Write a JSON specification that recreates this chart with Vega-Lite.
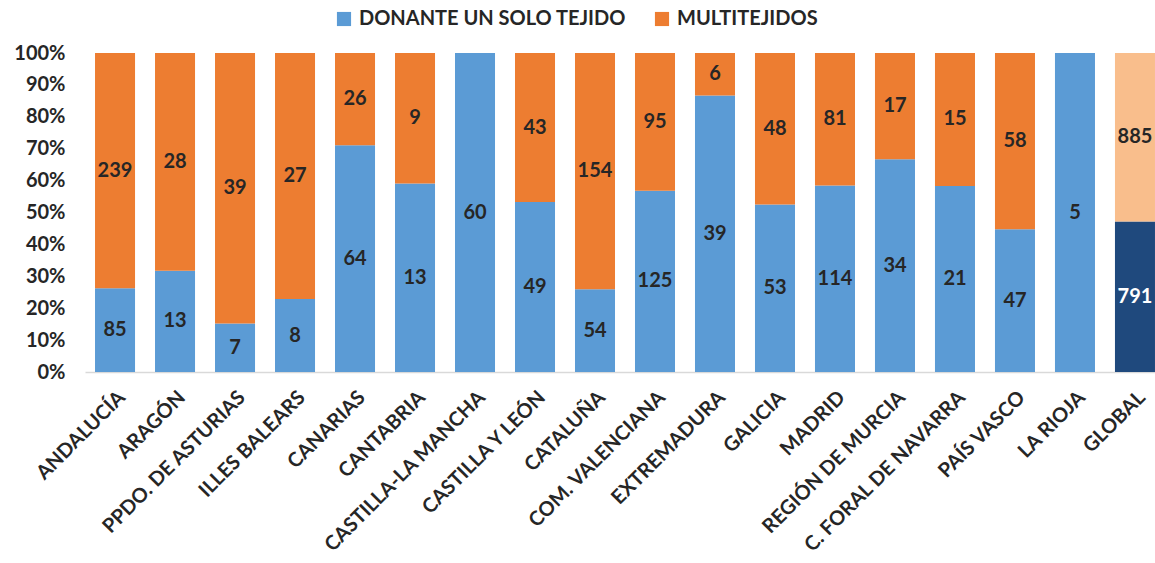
{
  "$schema": "https://vega.github.io/schema/vega-lite/v6.json",
  "width": 1070,
  "height": 319,
  "autosize": {"type": "none"},
  "padding": {"left": 85, "top": 53, "right": 0, "bottom": 191},
  "background": "white",
  "config": {
    "view": {"stroke": null},
    "font": "Lato",
    "text": {"font": "Lato"},
    "axisY": {
      "labelFont": "Lato",
      "labelFontSize": 20,
      "labelFontWeight": "bold",
      "labelColor": "#262626",
      "labelPadding": 20,
      "labelOverlap": false,
      "labelBound": false,
      "domain": false,
      "ticks": false,
      "grid": false
    }
  },
  "data": {
    "values": [
      {"region": "ANDALUCÍA", "tipo": "DONANTE UN SOLO TEJIDO", "n": 85},
      {"region": "ANDALUCÍA", "tipo": "MULTITEJIDOS", "n": 239},
      {"region": "ARAGÓN", "tipo": "DONANTE UN SOLO TEJIDO", "n": 13},
      {"region": "ARAGÓN", "tipo": "MULTITEJIDOS", "n": 28},
      {"region": "PPDO. DE ASTURIAS", "tipo": "DONANTE UN SOLO TEJIDO", "n": 7},
      {"region": "PPDO. DE ASTURIAS", "tipo": "MULTITEJIDOS", "n": 39},
      {"region": "ILLES BALEARS", "tipo": "DONANTE UN SOLO TEJIDO", "n": 8},
      {"region": "ILLES BALEARS", "tipo": "MULTITEJIDOS", "n": 27},
      {"region": "CANARIAS", "tipo": "DONANTE UN SOLO TEJIDO", "n": 64},
      {"region": "CANARIAS", "tipo": "MULTITEJIDOS", "n": 26},
      {"region": "CANTABRIA", "tipo": "DONANTE UN SOLO TEJIDO", "n": 13},
      {"region": "CANTABRIA", "tipo": "MULTITEJIDOS", "n": 9},
      {"region": "CASTILLA-LA MANCHA", "tipo": "DONANTE UN SOLO TEJIDO", "n": 60},
      {"region": "CASTILLA-LA MANCHA", "tipo": "MULTITEJIDOS", "n": 0},
      {"region": "CASTILLA Y LEÓN", "tipo": "DONANTE UN SOLO TEJIDO", "n": 49},
      {"region": "CASTILLA Y LEÓN", "tipo": "MULTITEJIDOS", "n": 43},
      {"region": "CATALUÑA", "tipo": "DONANTE UN SOLO TEJIDO", "n": 54},
      {"region": "CATALUÑA", "tipo": "MULTITEJIDOS", "n": 154},
      {"region": "COM. VALENCIANA", "tipo": "DONANTE UN SOLO TEJIDO", "n": 125},
      {"region": "COM. VALENCIANA", "tipo": "MULTITEJIDOS", "n": 95},
      {"region": "EXTREMADURA", "tipo": "DONANTE UN SOLO TEJIDO", "n": 39},
      {"region": "EXTREMADURA", "tipo": "MULTITEJIDOS", "n": 6},
      {"region": "GALICIA", "tipo": "DONANTE UN SOLO TEJIDO", "n": 53},
      {"region": "GALICIA", "tipo": "MULTITEJIDOS", "n": 48},
      {"region": "MADRID", "tipo": "DONANTE UN SOLO TEJIDO", "n": 114},
      {"region": "MADRID", "tipo": "MULTITEJIDOS", "n": 81},
      {"region": "REGIÓN DE MURCIA", "tipo": "DONANTE UN SOLO TEJIDO", "n": 34},
      {"region": "REGIÓN DE MURCIA", "tipo": "MULTITEJIDOS", "n": 17},
      {"region": "C. FORAL DE NAVARRA", "tipo": "DONANTE UN SOLO TEJIDO", "n": 21},
      {"region": "C. FORAL DE NAVARRA", "tipo": "MULTITEJIDOS", "n": 15},
      {"region": "PAÍS VASCO", "tipo": "DONANTE UN SOLO TEJIDO", "n": 47},
      {"region": "PAÍS VASCO", "tipo": "MULTITEJIDOS", "n": 58},
      {"region": "LA RIOJA", "tipo": "DONANTE UN SOLO TEJIDO", "n": 5},
      {"region": "LA RIOJA", "tipo": "MULTITEJIDOS", "n": 0},
      {"region": "GLOBAL", "tipo": "DONANTE UN SOLO TEJIDO", "n": 791},
      {"region": "GLOBAL", "tipo": "MULTITEJIDOS", "n": 885}
    ]
  },
  "transform": [
    {"calculate": "datum.region === 'GLOBAL' ? 'GLOBAL ' + datum.tipo : datum.tipo", "as": "serie"},
    {"stack": "n", "groupby": ["region"], "sort": [{"field": "tipo", "order": "ascending"}], "offset": "normalize", "as": ["y0", "y1"]},
    {"calculate": "(datum.y0 + datum.y1) / 2", "as": "ymid"}
  ],
  "encoding": {
    "x": {
      "field": "region",
      "type": "nominal",
      "sort": null,
      "title": null,
      "scale": {"range": [0, 1080], "paddingInner": 0.333, "paddingOuter": 0.167},
      "axis": {
        "labelAngle": -45,
        "labelAlign": "right",
        "labelBaseline": "top",
        "labelFont": "Lato",
        "labelFontSize": 20,
        "labelFontWeight": "bold",
        "labelColor": "#262626",
        "labelPadding": 15,
        "labelLimit": 400,
        "labelOverlap": false,
        "ticks": false,
        "domainColor": "#d9d9d9",
        "domainWidth": 1.5,
        "grid": false
      }
    }
  },
  "layer": [
    {
      "mark": {"type": "bar"},
      "encoding": {
        "y": {
          "field": "y0",
          "type": "quantitative",
          "title": null,
          "scale": {"domain": [0, 1]},
          "axis": {"values": [0, 0.1, 0.2, 0.3, 0.4, 0.5, 0.6, 0.7, 0.8, 0.9, 1], "format": ".0%"}
        },
        "y2": {"field": "y1"},
        "color": {
          "field": "serie",
          "type": "nominal",
          "scale": {
            "domain": ["DONANTE UN SOLO TEJIDO", "MULTITEJIDOS", "GLOBAL DONANTE UN SOLO TEJIDO", "GLOBAL MULTITEJIDOS"],
            "range": ["#5B9BD5", "#ED7D31", "#1F497D", "#F9BE8C"]
          },
          "legend": {
            "values": ["DONANTE UN SOLO TEJIDO", "MULTITEJIDOS"],
            "orient": "none",
            "direction": "horizontal",
            "legendX": 249,
            "legendY": -44,
            "title": null,
            "symbolType": "square",
            "symbolSize": 200,
            "symbolStrokeWidth": 0,
            "symbolOpacity": 1,
            "labelFont": "Lato",
            "labelFontSize": 20,
            "labelFontWeight": "bold",
            "labelColor": "#262626",
            "labelLimit": 500,
            "columnPadding": 26,
            "labelOffset": 5
          }
        }
      }
    },
    {
      "transform": [{"filter": "datum.n > 0"}],
      "mark": {"type": "text", "font": "Lato", "fontSize": 20, "fontWeight": "bold", "baseline": "middle", "align": "center"},
      "encoding": {
        "y": {
          "field": "ymid",
          "type": "quantitative",
          "title": null,
          "axis": {"values": [0, 0.1, 0.2, 0.3, 0.4, 0.5, 0.6, 0.7, 0.8, 0.9, 1], "format": ".0%"}
        },
        "text": {"field": "n", "type": "quantitative"},
        "color": {
          "condition": {"test": "datum.serie === 'GLOBAL DONANTE UN SOLO TEJIDO'", "value": "#ffffff"},
          "value": "#262626"
        }
      }
    }
  ]
}
